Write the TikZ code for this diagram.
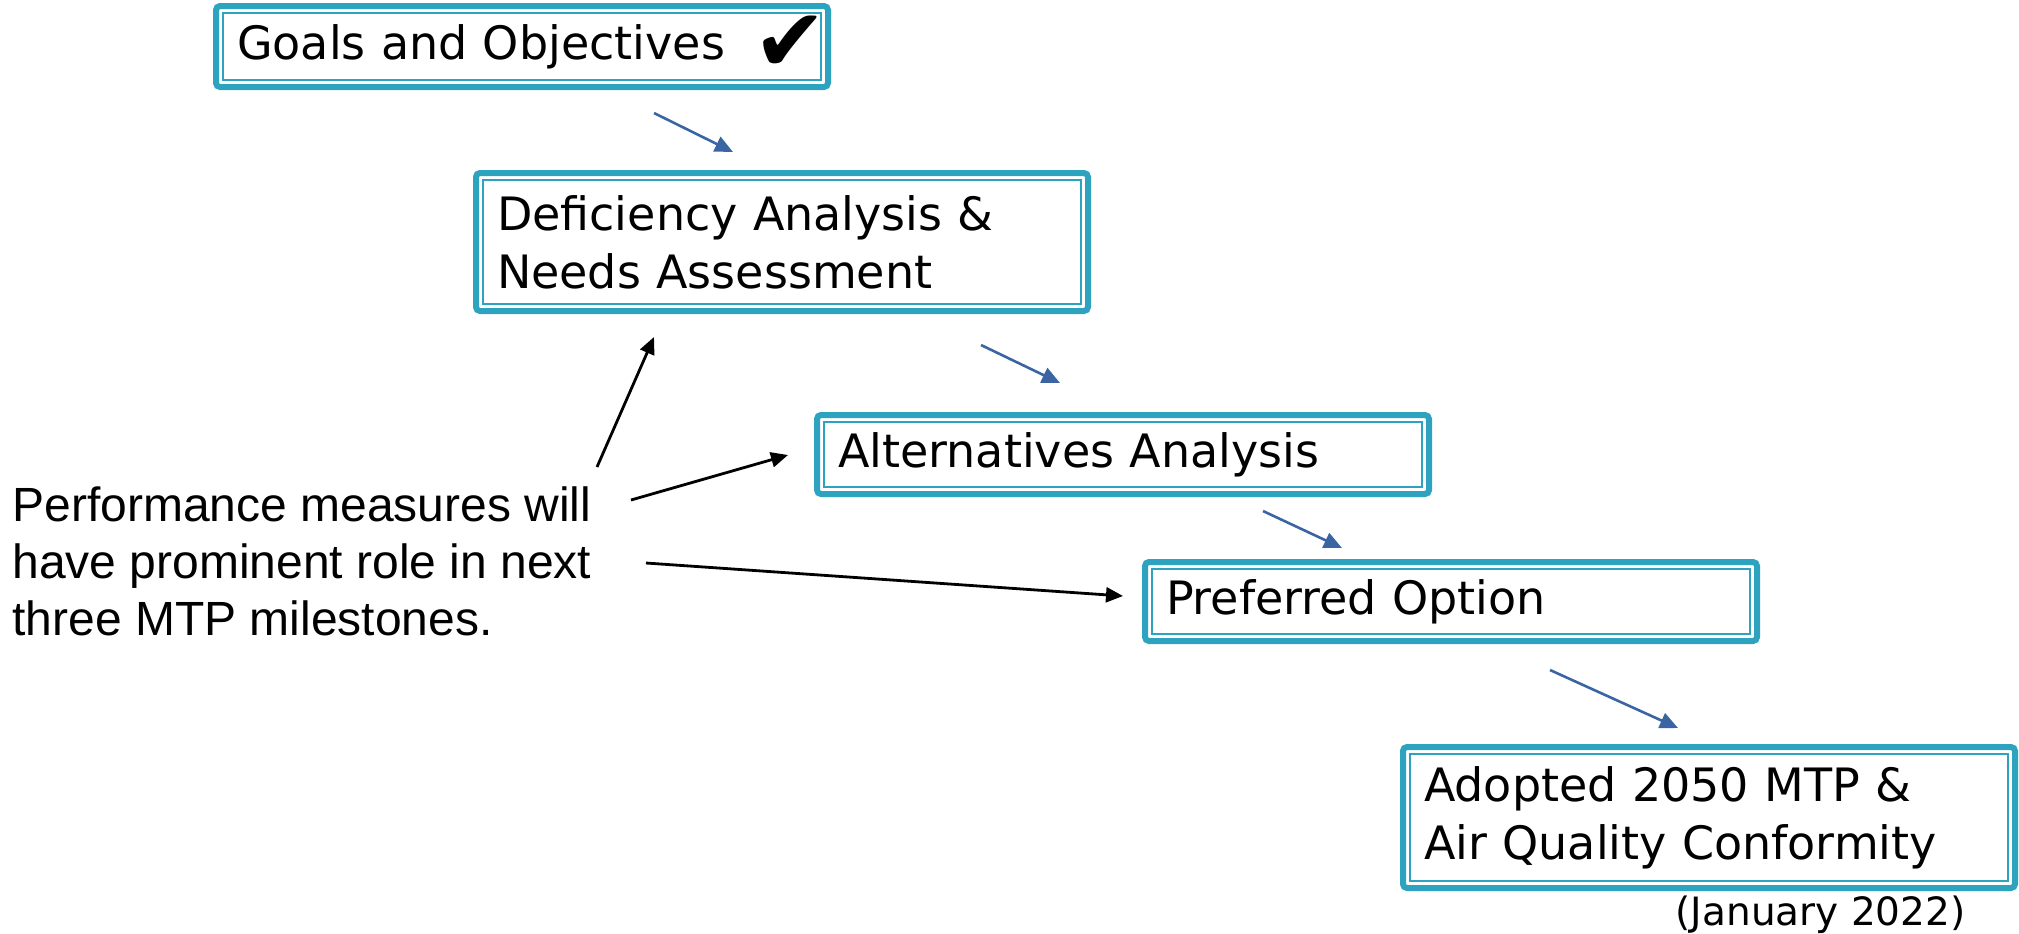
\documentclass[tikz,border=0pt]{standalone}
\usepackage{fontspec}
\setmainfont{DejaVu Sans}
\newfontfamily\arialfont{Liberation Sans}
\newfontfamily\symfont{DejaVu Sans}
\usetikzlibrary{arrows.meta}
\definecolor{boxteal}{RGB}{46,163,191}
\definecolor{flowblue}{RGB}{58,100,162}
\tikzset{
  stepbox/.style={draw=boxteal, line width=3pt, rounded corners=2pt, outer sep=0pt,
    minimum width=306pt, inner xsep=10.5pt, inner ysep=0pt, text width=285pt, align=left,
    font=\fontsize{23}{29}\selectfont},
  innerline/.style={draw=boxteal, line width=1pt},
  flowarrow/.style={draw=flowblue, line width=1.3pt, -{Triangle[length=9pt,width=8pt]}},
  notearrow/.style={draw=black, line width=1.4pt, -{Triangle[length=8.5pt,width=7.5pt]}},
}
\begin{document}
\begin{tikzpicture}[x=0.5pt, y=-0.5pt]
\useasboundingbox (0,0) rectangle (2019,933);
\node[stepbox, minimum height=40.5pt] (b1) at (522,46.5) {Goals and Objectives};
\node[stepbox, minimum height=69pt] (b2) at (782,242) {Deficiency Analysis \&\\Needs Assessment};
\node[stepbox, minimum height=39.5pt] (b3) at (1123,454.5) {Alternatives Analysis};
\node[stepbox, minimum height=39.5pt] (b4) at (1451,601.5) {Preferred Option};
\node[stepbox, minimum height=70.5pt] (b5) at (1709,817.5) {Adopted 2050 MTP \&\\Air Quality Conformity};
\foreach \n in {b1,b2,b3,b4,b5}
  \draw[innerline] ([shift={(7,7)}]\n.north west) rectangle ([shift={(-7,-7)}]\n.south east);
\node[font=\symfont\fontsize{44}{44}\selectfont, inner sep=0pt] (check) at (790,44) {✔};
\node[font=\fontsize{19.5}{22}\selectfont, inner sep=0pt, anchor=base east] (date) at (1966,925) {(January 2022)};
\node[font=\arialfont\fontsize{24}{28.5}\selectfont, align=left, inner sep=0pt, anchor=north west] (note) at (12,486) {Performance measures will\\have prominent role in next\\three MTP milestones.};
% flow arrows
\coordinate (f1s) at (654,113); \coordinate (f1e) at (733,152);
\coordinate (f2s) at (981,345); \coordinate (f2e) at (1060,383);
\coordinate (f3s) at (1263,511); \coordinate (f3e) at (1342,548);
\coordinate (f4s) at (1550,670); \coordinate (f4e) at (1678,728);
\draw[flowarrow] (f1s) -- (f1e);
\draw[flowarrow] (f2s) -- (f2e);
\draw[flowarrow] (f3s) -- (f3e);
\draw[flowarrow] (f4s) -- (f4e);
% note arrows
\coordinate (n1s) at (597,467); \coordinate (n1e) at (654,337);
\coordinate (n2s) at (631,500); \coordinate (n2e) at (788,455);
\coordinate (n3s) at (646,563); \coordinate (n3e) at (1123,596);
\draw[notearrow] (n1s) -- (n1e);
\draw[notearrow] (n2s) -- (n2e);
\draw[notearrow] (n3s) -- (n3e);
\end{tikzpicture}
\end{document}
